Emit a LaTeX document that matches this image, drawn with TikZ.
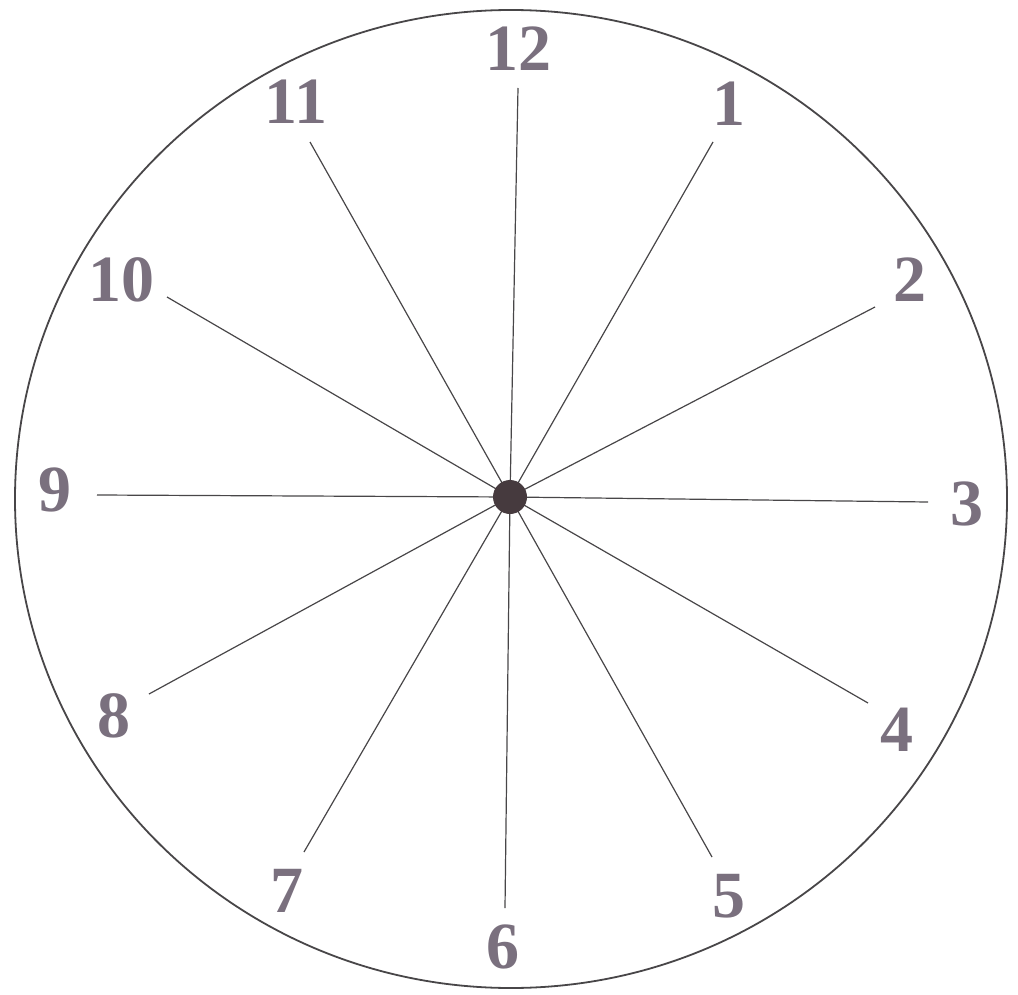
\documentclass[tikz,border=0pt]{standalone}
\usepackage{fontspec}
\setmainfont{Liberation Serif}
\usepackage{tikz}
\usetikzlibrary{positioning,calc}
\definecolor{digitgray}{RGB}{122,112,126}
\definecolor{linegray}{RGB}{72,70,72}
\definecolor{hubgray}{RGB}{70,58,62}

\begin{document}
\begin{tikzpicture}[x=0.5pt,y=-0.5pt,
  numeral/.style={text=digitgray,font=\fontsize{33}{33}\selectfont\bfseries,inner sep=0pt},
  spoke/.style={draw=linegray,line width=0.6pt},
  hub/.style={circle,fill=hubgray,minimum size=17pt,inner sep=0pt},
  rim/.style={draw=linegray,line width=0.9pt}]
\useasboundingbox (0,0) rectangle (1018,995);
\draw[rim] (511,499) ellipse [x radius=248pt,y radius=244.5pt];
\coordinate (c) at (510,497);
% numerals and the ends of their spokes
\foreach \n/\nx/\ny/\ex/\ey in {12/518/49/518/88, 1/729/104/713/142, 2/910/280/875/307,
    3/967/504/928/502, 4/897/730/868/703, 5/729/896/712/857, 6/503/947/505/908,
    7/287/891/304/852, 8/114/716/149/694, 9/55/490/97/495, 10/121/280/167/297,
    11/296/102/310/142}{
  \node[numeral] (n\n) at (\nx,\ny) {\n};
  \coordinate (e\n) at (\ex,\ey);
  \draw[spoke] (c)--(e\n);
}
\node[hub] (pin) at (c) {};
\end{tikzpicture}
\end{document}
